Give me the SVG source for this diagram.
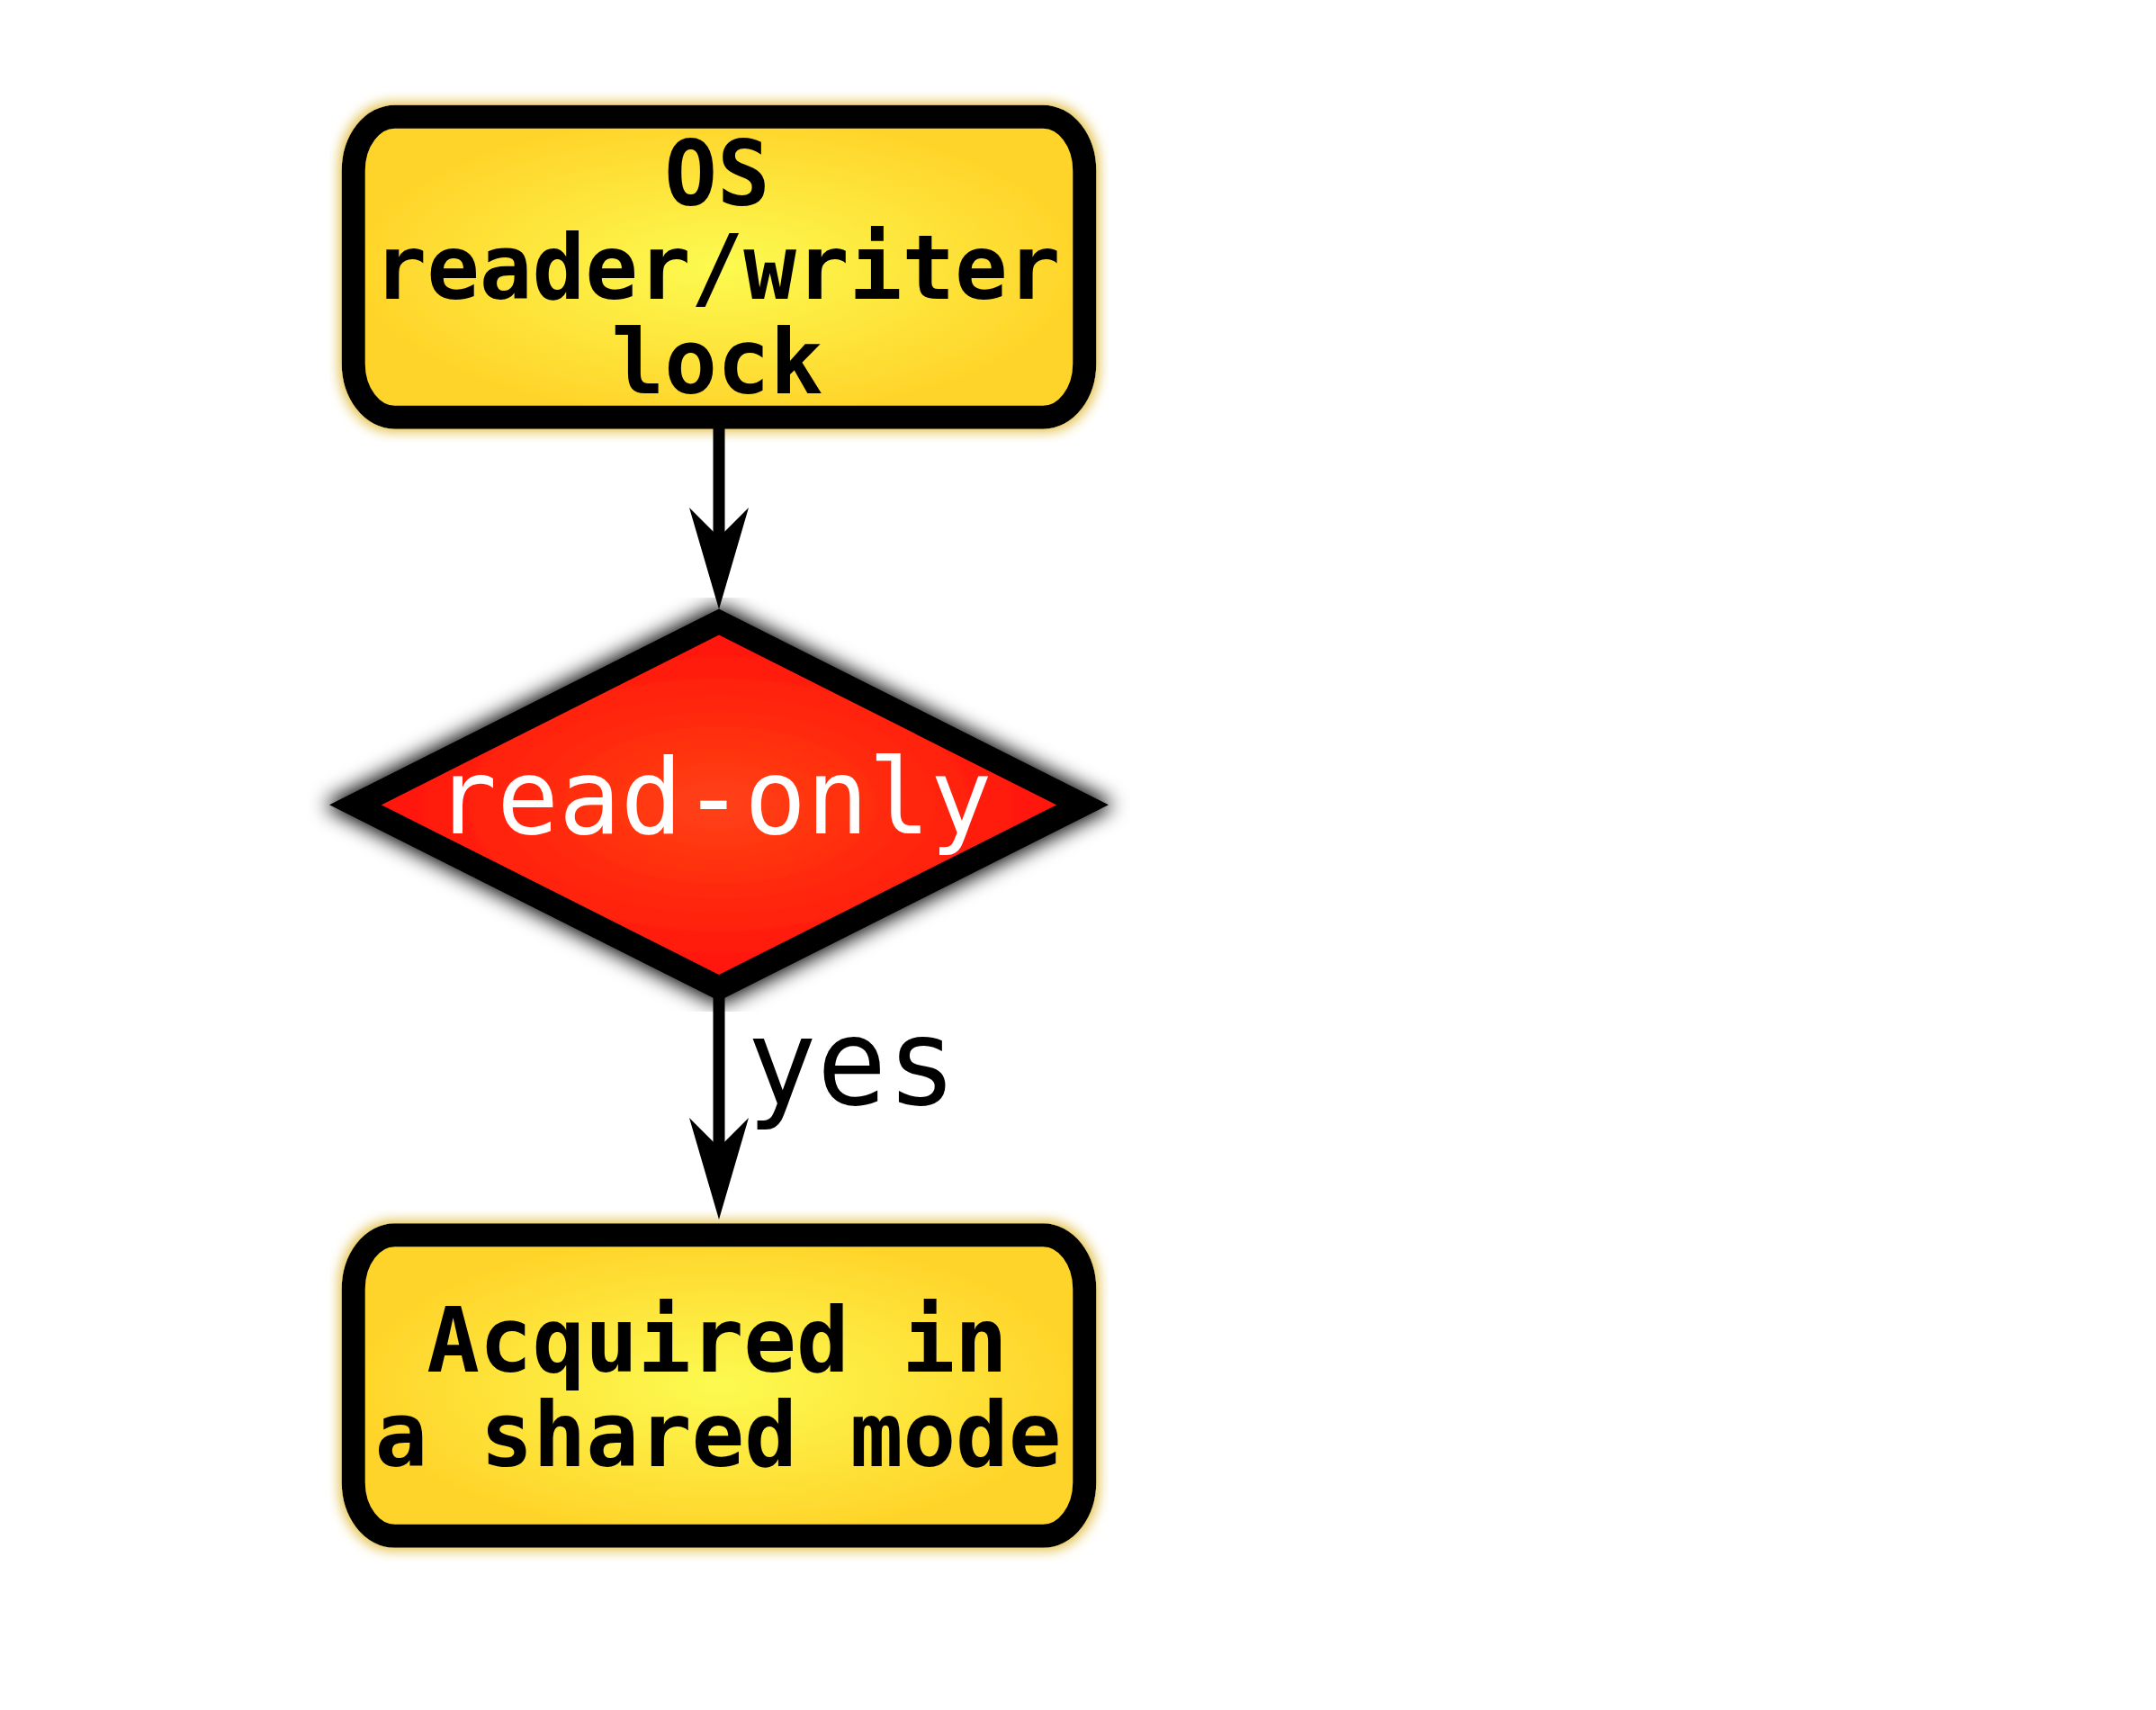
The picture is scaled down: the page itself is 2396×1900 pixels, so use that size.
<svg xmlns="http://www.w3.org/2000/svg" width="2396" height="1900" viewBox="0 0 2396 1900">
  <defs>
    <radialGradient id="gYellow" cx="50%" cy="50%" r="50%">
      <stop offset="0" stop-color="#fcfa50"/>
      <stop offset="1" stop-color="#ffd42a"/>
    </radialGradient>
    <radialGradient id="gRed" cx="50%" cy="50%" r="50%">
      <stop offset="0" stop-color="#ff4212"/>
      <stop offset="1" stop-color="#ff1010"/>
    </radialGradient>
    <filter id="glow" x="-3.2%" y="-8.3%" width="106.4%" height="116.6%">
      <feMorphology in="SourceAlpha" operator="dilate" radius="3" result="d"/>
      <feGaussianBlur in="d" stdDeviation="7" result="b"/>
      <feFlood flood-color="#e2c048" flood-opacity="1"/>
      <feComposite in2="b" operator="in" result="g"/>
      <feMerge>
        <feMergeNode in="g"/>
        <feMergeNode in="SourceGraphic"/>
      </feMerge>
    </filter>
    <filter id="shadow" x="-6.6%" y="-6.5%" width="113.2%" height="113%">
      <feMorphology in="SourceAlpha" operator="dilate" radius="3" result="d"/>
      <feGaussianBlur in="d" stdDeviation="11" result="b"/>
      <feFlood flood-color="#000" flood-opacity="1"/>
      <feComposite in2="b" operator="in" result="g"/>
      <feMerge>
        <feMergeNode in="g"/>
        <feMergeNode in="SourceGraphic"/>
      </feMerge>
    </filter>
  </defs>
  <style>
    .box { fill: url(#gYellow); stroke: #000; stroke-width: 26; filter: url(#glow); }
    .dia { fill: url(#gRed); stroke: #000; stroke-width: 26; stroke-linejoin: miter; stroke-miterlimit: 10; filter: url(#shadow); }
    .bt { font-family: "DejaVu Sans Mono", "Liberation Mono", monospace; font-weight: bold; font-size: 100px; fill: #000; text-anchor: middle; }
    .dt { font-family: "DejaVu Sans Mono", "Liberation Mono", monospace; font-size: 116px; fill: #fff; text-anchor: middle; }
    .lt { font-family: "DejaVu Sans Mono", "Liberation Mono", monospace; font-size: 134px; fill: #000; }
    .ln { stroke: #000; stroke-width: 13; fill: none; }
    .ah { fill: #000; stroke: none; }
  </style>
  <rect width="2396" height="1900" fill="#fff"/>

  <g id="node-lock">
    <rect class="box" x="392.7" y="129.7" width="812.6" height="334" rx="46" ry="60"/>
    <g transform="translate(797,0) scale(0.975,1) translate(-797,0)">
      <text class="bt" x="797" y="228.3">OS</text>
      <text class="bt" x="797" y="332.3">reader/writer</text>
      <text class="bt" x="797" y="437.3">lock</text>
    </g>
  </g>

  <g id="node-readonly">
    <polygon class="dia" points="799,691 1203,894.3 799,1097.5 395,894.3"/>
    <g transform="translate(793,0) scale(0.985,1) translate(-793,0)">
      <text class="dt" x="793" y="926">read-only</text>
    </g>
  </g>

  <g id="node-shared">
    <rect class="box" x="392.7" y="1372.3" width="812.6" height="334.5" rx="46" ry="60"/>
    <g transform="translate(797,0) scale(0.975,1) translate(-797,0)">
      <text class="bt" x="797" y="1524.3">Acquired in</text>
      <text class="bt" x="798" y="1629">a shared mode</text>
    </g>
  </g>

  <g id="connectors">
    <line class="ln" x1="799" y1="466" x2="799" y2="600"/>
    <polygon class="ah" points="799,677 832,564 799,597 766,564"/>
    <line class="ln" x1="799" y1="1100" x2="799" y2="1278"/>
    <polygon class="ah" points="799,1355 832,1242 799,1275 766,1242"/>
    <g transform="translate(830,0) scale(0.964,1) translate(-830,0)">
      <text class="lt" x="830" y="1226.7">yes</text>
    </g>
  </g>
</svg>
